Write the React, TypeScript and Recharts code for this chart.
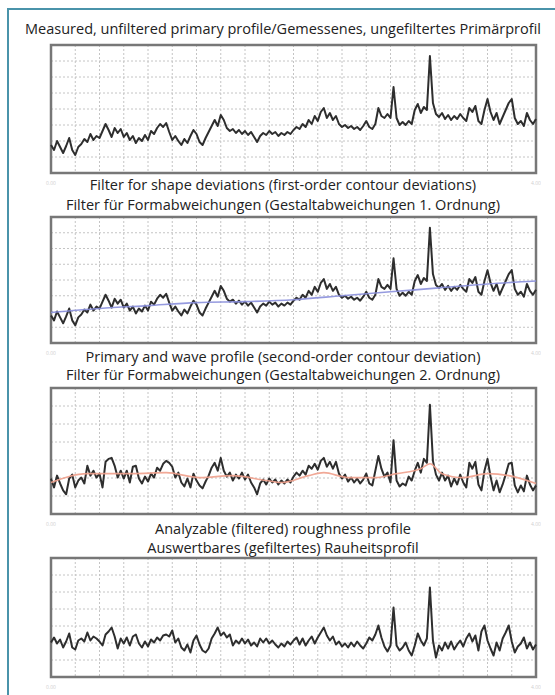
import React from 'react';
import { LineChart, Line, XAxis, YAxis, CartesianGrid, ReferenceArea } from 'recharts';

// Measured, unfiltered primary profile (index = sample, 161 samples over 4.00 mm)
const PRIMARY = [
  -36, -41, -32, -38, -44, -37, -29, -41, -46, -38, -35, -30, -33, -25, -31, -27, -29, -22, -15, -21,
  -28, -19, -24, -20, -28, -24, -31, -27, -34, -29, -32, -26, -31, -22, -25, -19, -15, -18, -14, -23,
  -31, -27, -32, -36, -30, -34, -27, -21, -25, -33, -36, -29, -23, -17, -11, -17, -6, -11, -19, -22,
  -20, -24, -21, -25, -22, -26, -23, -28, -33, -27, -24, -26, -22, -25, -23, -27, -24, -26, -23, -25,
  -21, -18, -20, -15, -18, -11, -15, -7, -12, -3, 1, -9, -4, -11, -7, -15, -18, -16, -19, -17,
  -20, -18, -21, -17, -12, -18, -20, -15, 1, -7, -9, -5, -9, 22, -9, -16, -13, -16, -12, -15,
  -1, 5, -4, 2, -1, 53, 6, -5, -8, -4, -10, -6, -11, -7, -10, -5, -9, -12, 1, -3,
  3, -12, -15, -1, 10, -3, -11, -4, -15, -8, -1, 6, 10, -9, -15, -12, -17, -4, -11, -15,
  -10,
];

// Form (first-order) filter line
const TREND_X = [0, 16, 32, 48, 64, 80, 96, 112, 128, 144, 160];
const TREND = [-33, -29, -26, -23, -22, -20, -16, -12, -8, -4, -1];

// Primary and wave profile (form removed)
const WAVE_PROFILE = [
  -28, -37, -25, -33, -40, -44, -28, -24, -37, -30, -27, -33, -15, -25, -20, -27, -23, -37, -11, -8,
  -7, -15, -27, -20, -28, -20, -32, -16, -15, -28, -33, -26, -31, -23, -27, -17, -20, -13, -10, -12,
  -16, -27, -22, -32, -36, -28, -37, -23, -30, -35, -38, -31, -25, -17, -12, -20, -7, -20, -26, -22,
  -30, -24, -28, -22, -29, -24, -32, -37, -44, -33, -29, -34, -28, -32, -29, -34, -30, -33, -29, -32,
  -26, -22, -25, -20, -24, -15, -18, -13, -19, -10, -7, -16, -11, -18, -11, -23, -28, -24, -31, -27,
  -32, -28, -33, -29, -23, -33, -35, -20, -5, -18, -26, -22, -32, 11, -30, -36, -33, -35, -26, -30,
  -20, -12, -22, -8, -12, 47, -10, -24, -30, -22, -30, -25, -36, -28, -34, -24, -32, -37, -12, -18,
  -11, -34, -40, -20, -8, -26, -40, -30, -42, -34, -24, -13, -12, -35, -42, -35, -41, -25, -34, -40,
  -35,
];

// Waviness (second-order) filter line
const WAVE_X = [0, 12, 27, 38, 49, 60, 71, 76, 85, 90, 98, 107, 114, 122, 125, 129, 136, 144, 151, 160];
const WAVE = [-32, -23, -23, -22, -27, -25, -30, -32, -25, -22, -27, -27, -23, -18, -13, -23, -27, -23, -25, -33];

// Analyzable (filtered) roughness profile
const ROUGHNESS = [
  -25, -20, -26, -22, -30, -24, -16, -30, -32, -23, -21, -24, -15, -23, -19, -21, -24, -28, -17, -14,
  -10, -19, -31, -21, -26, -20, -28, -19, -17, -26, -30, -24, -29, -22, -25, -20, -23, -18, -17, -19,
  -13, -25, -21, -30, -33, -27, -35, -23, -18, -27, -33, -35, -31, -21, -16, -10, -18, -15, -20, -17,
  -28, -23, -26, -21, -26, -22, -28, -25, -29, -21, -25, -21, -26, -23, -27, -30, -26, -29, -24, -27,
  -23, -20, -27, -21, -28, -23, -19, -26, -20, -15, -10, -18, -23, -19, -27, -24, -29, -26, -30, -25,
  -29, -24, -28, -31, -26, -20, -23, -17, -8, -20, -29, -34, -28, 10, -28, -33, -30, -25, -33, -38,
  -28, -16, -23, -28, -21, 30, -23, -40, -28, -33, -25, -31, -24, -32, -27, -23, -29, -21, -16, -24,
  -18, -33, -14, -8, -23, -31, -38, -25, -33, -21, -15, -8, -24, -35, -29, -26, -20, -31, -25, -32,
  -27,
];

const X_TICKS = [0, 8, 16, 24, 32, 40, 48, 56, 64, 72, 80, 88, 96, 104, 112, 120, 128, 136, 144, 152, 160];
const X_MAX = 160;
const X_LABELS: Record<number, string> = { 0: '0.00', 160: '4.00' };

const TITLE_1 = ['Measured, unfiltered primary profile/Gemessenes, ungefiltertes Primärprofil'];
const TITLE_2 = ['Filter for shape deviations (first-order contour deviations)', 'Filter für Formabweichungen (Gestaltabweichungen 1. Ordnung)'];
const TITLE_3 = ['Primary and wave profile (second-order contour deviation)', 'Filter für Formabweichungen (Gestaltabweichungen 2. Ordnung)'];
const TITLE_4 = ['Analyzable (filtered) roughness profile', 'Auswertbares (gefiltertes) Rauheitsprofil'];

const FONT = '"Open Sans", "Noto Sans", sans-serif';

type PanelProps = {
  top: number;
  h: number;
  half: number;
  divisions: number;
  values: number[];
  overlayX?: number[];
  overlayY?: number[];
  overlayColor?: string;
};

const Panel = ({ top, h, half, divisions, values, overlayX, overlayY, overlayColor }: PanelProps) => {
  const rows = values.map((p, i) => ({ i, p }));
  const overlay = overlayX && overlayY ? overlayX.map((i, k) => ({ i, o: overlayY[k] })) : null;
  const gridTicks: number[] = [];
  for (let j = 0; j <= divisions; j++) gridTicks.push(-half + (j * 2 * half) / divisions);
  const mTop = 5;
  return (
    <div style={{ position: 'absolute', left: 20, top: top - mTop }}>
      <LineChart width={521} height={mTop + h + 14} margin={{ top: mTop, right: 5, bottom: 0, left: 0 }}>
        <CartesianGrid
          yAxisId="g"
          stroke="#c4c4c4"
          strokeDasharray="2 2"
          strokeWidth={1}
          horizontalCoordinatesGenerator={(p: any) =>
            gridTicks.map((t) => p.offset.top + ((half - t) / (2 * half)) * p.offset.height)
          }
          verticalCoordinatesGenerator={(p: any) =>
            X_TICKS.map((t) => p.offset.left + (t / X_MAX) * p.offset.width)
          }
        />
        <XAxis
          dataKey="i"
          type="number"
          domain={[0, X_MAX]}
          ticks={X_TICKS}
          axisLine={false}
          tickLine={false}
          height={14}
          interval={0}
          tick={(props: any) => {
            const lbl = X_LABELS[props.payload.value];
            if (!lbl) return <g />;
            return (
              <text x={props.x} y={props.y + 4} fontSize={5} fill="#cfcfcf" textAnchor="middle" fontFamily={FONT}>
                {lbl}
              </text>
            );
          }}
        />
        <YAxis yAxisId="g" hide domain={[-half, half]} ticks={gridTicks} type="number" interval={0} />
        <YAxis
          yAxisId="lbl"
          width={31}
          domain={[-half, half]}
          ticks={[-half, 0, half]}
          type="number"
          axisLine={false}
          tickLine={false}
          interval={0}
          tick={(props: any) => (
            <text x={props.x - 3} y={props.y + 2} fontSize={5} fill="#cfcfcf" textAnchor="end" fontFamily={FONT}>
              {(props.payload.value * 1.5625).toFixed(1)}
            </text>
          )}
        />
        <ReferenceArea
          yAxisId="g"
          x1={0}
          x2={X_MAX}
          y1={-half}
          y2={half}
          fill="none"
          fillOpacity={0}
          stroke="#777"
          strokeWidth={2.5}
          ifOverflow="visible"
        />
        <Line
          yAxisId="g"
          data={rows}
          dataKey="p"
          type="linear"
          stroke="#2e2e2e"
          strokeWidth={2}
          strokeLinejoin="round"
          dot={false}
          isAnimationActive={false}
        />
        {overlay && (
          <Line
            yAxisId="g"
            data={overlay}
            dataKey="o"
            type="monotone"
            stroke={overlayColor}
            strokeWidth={1.6}
            strokeOpacity={0.9}
            dot={false}
            isAnimationActive={false}
          />
        )}
      </LineChart>
    </div>
  );
};

const Title = ({ lines, centers }: { lines: string[]; centers: number[] }) => (
  <>
    {lines.map((t, k) => (
      <div
        key={k}
        style={{
          position: 'absolute',
          left: 0,
          width: 566,
          top: centers[k] - 10,
          height: 20,
          lineHeight: '20px',
          textAlign: 'center',
          fontFamily: FONT,
          fontSize: 14.5,
          color: '#222',
          whiteSpace: 'nowrap',
        }}
      >
        {t}
      </div>
    ))}
  </>
);

export default function App() {
  return (
    <div
      style={{
        position: 'absolute',
        left: 0,
        top: 0,
        width: 555,
        height: 695,
        overflow: 'hidden',
        background: '#fff',
      }}
    >
      <div
        style={{
          position: 'absolute',
          left: 7,
          top: 8,
          width: 600,
          height: 720,
          borderTop: '2px solid #4a93aa',
          borderLeft: '2px solid #4a93aa',
        }}
      />
      <Title lines={TITLE_1} centers={[29]} />
      <Panel top={45} h={128} half={64} divisions={8} values={PRIMARY} />
      <Title lines={TITLE_2} centers={[185, 205]} />
      <Panel
        top={217}
        h={126}
        half={64}
        divisions={8}
        values={PRIMARY}
        overlayX={TREND_X}
        overlayY={TREND}
        overlayColor="#8a8fdc"
      />
      <Title lines={TITLE_3} centers={[357, 375]} />
      <Panel
        top={388}
        h={126}
        half={64}
        divisions={7}
        values={WAVE_PROFILE}
        overlayX={WAVE_X}
        overlayY={WAVE}
        overlayColor="#f0a08c"
      />
      <Title lines={TITLE_4} centers={[529, 548]} />
      <Panel top={558} h={119} half={59.5} divisions={7} values={ROUGHNESS} />
    </div>
  );
}
